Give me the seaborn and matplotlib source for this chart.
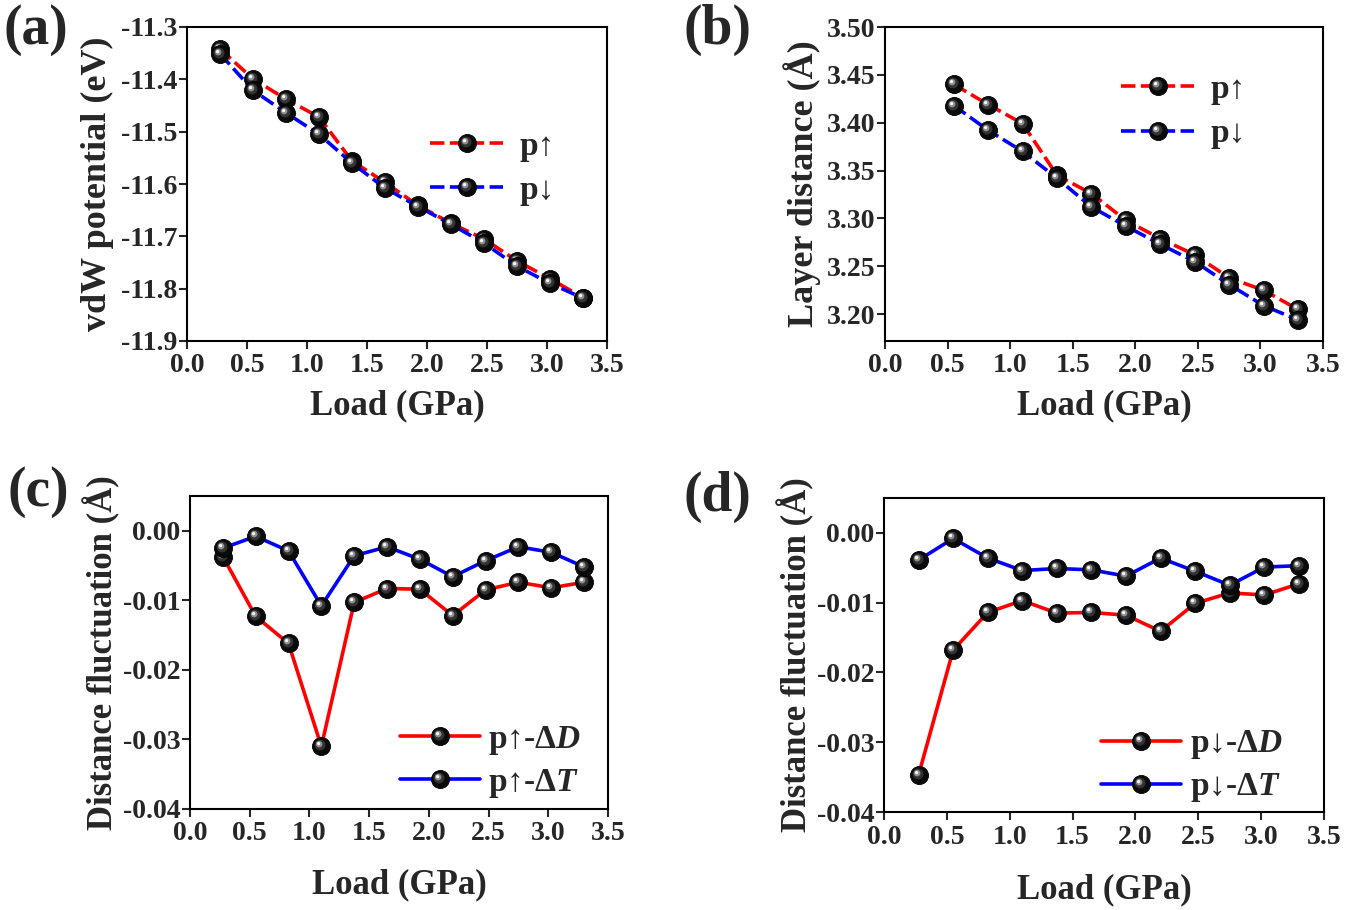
import numpy as np
import pandas as pd
import matplotlib
matplotlib.use("Agg")
import matplotlib.pyplot as plt
import seaborn as sns
from matplotlib.path import Path
from matplotlib.legend_handler import HandlerTuple

# ---- data ----
load = [0.275, 0.55, 0.825, 1.1, 1.375, 1.65, 1.925, 2.2, 2.475, 2.75, 3.025, 3.3]

vdw_up = [-11.342, -11.399, -11.438, -11.472, -11.556, -11.597, -11.641, -11.675, -11.705, -11.747, -11.781, -11.817]
vdw_down = [-11.351, -11.421, -11.464, -11.505, -11.560, -11.608, -11.643, -11.677, -11.713, -11.757, -11.790, -11.818]

layer_load = load[1:]
layer_up = [3.440, 3.419, 3.399, 3.345, 3.326, 3.298, 3.279, 3.262, 3.238, 3.225, 3.205]
layer_down = [3.418, 3.392, 3.370, 3.342, 3.312, 3.292, 3.273, 3.255, 3.231, 3.209, 3.194]

dD_up = [-0.0037, -0.0123, -0.0162, -0.0310, -0.0103, -0.0083, -0.0084, -0.0122, -0.0085, -0.0074, -0.0082, -0.0074]
dT_up = [-0.0025, -0.0008, -0.0029, -0.0108, -0.0036, -0.0023, -0.0041, -0.0066, -0.0043, -0.0023, -0.0031, -0.0052]

dD_down = [-0.0347, -0.0168, -0.0114, -0.0097, -0.0115, -0.0114, -0.0118, -0.0141, -0.0101, -0.0086, -0.0089, -0.0073]
dT_down = [-0.0039, -0.0008, -0.0036, -0.0054, -0.0051, -0.0053, -0.0062, -0.0036, -0.0055, -0.0075, -0.0049, -0.0047]

sns.set_style("ticks")
plt.rcParams["font.family"] = ["Liberation Serif", "DejaVu Serif"]
plt.rcParams["font.weight"] = "bold"
plt.rcParams["axes.labelweight"] = "bold"
plt.rcParams["axes.unicode_minus"] = False
plt.rcParams["mathtext.fontset"] = "custom"
plt.rcParams["mathtext.rm"] = "Liberation Serif:bold"
plt.rcParams["mathtext.it"] = "Liberation Serif:italic:bold"
plt.rcParams["axes.linewidth"] = 1.5


def spot(cx, cy, r):
    # small circle inside the unit marker box; the lone point keeps the scale fixed
    return Path.make_compound_path(Path([(0.5, 0.0)], [Path.MOVETO]), Path.circle((cx, cy), r))


shine = [(spot(-0.08, 0.08, 0.30), "#333333"),
         (spot(-0.13, 0.13, 0.18), "#8f8f8f"),
         (spot(-0.16, 0.16, 0.09), "#f7f7f7")]
MS = 13


def series(ax, x, y, color, ls, label):
    df = pd.DataFrame({"Load": x, "value": y})
    sns.lineplot(data=df, x="Load", y="value", ax=ax, color=color, linestyle=ls,
                 lw=2.6, marker="o", ms=MS, mfc="#0a0a0a", mec="black", mew=0.6,
                 label=label)
    parts = [ax.lines[-1]]
    for path, c in shine:
        h, = ax.plot(x, y, ls="none", marker=path, ms=MS, color=c, mew=0)
        parts.append(h)
    return tuple(parts)


def add_legend(ax, handles, labels, anchor, hl, tp, sp):
    ax.legend(handles, labels, handler_map={tuple: HandlerTuple(ndivide=1, pad=0)},
              frameon=False, loc="center left", bbox_to_anchor=anchor,
              handlelength=hl, handletextpad=tp, labelspacing=sp,
              prop={"family": ["Liberation Serif", "DejaVu Serif"], "weight": "bold", "size": 24})


fig = plt.figure(figsize=(13.6, 9.1), dpi=100)

boxes = {
    "a": [187 / 1360, 1 - 341 / 910, 420 / 1360, 314 / 910],
    "b": [885 / 1360, 1 - 341 / 910, 438 / 1360, 314 / 910],
    "c": [190 / 1360, 1 - 809 / 910, 418 / 1360, 313 / 910],
    "d": [884 / 1360, 1 - 812 / 910, 440 / 1360, 314 / 910],
}
axes = {k: fig.add_axes(v) for k, v in boxes.items()}

dash = (0, (4, 1.5))

# (a)
ax = axes["a"]
h1 = series(ax, load, vdw_up, "red", dash, "p↑")
h2 = series(ax, load, vdw_down, "blue", dash, "p↓")
ax.set_ylim(-11.9, -11.3)
ax.set_yticks(np.arange(-11.9, -11.25, 0.1))
ax.set_yticklabels([f"{v:.1f}" for v in np.arange(-11.9, -11.25, 0.1)])
ax.set_ylabel("vdW potential (eV)", fontsize=26, labelpad=5)
add_legend(ax, [h1, h2], ["p↑", "p↓"], (0.507, 0.55), 2.2, 0.5, 0.4)

# (b)
ax = axes["b"]
h1 = series(ax, layer_load, layer_up, "red", dash, "p↑")
h2 = series(ax, layer_load, layer_down, "blue", dash, "p↓")
ax.set_ylim(3.172, 3.50)
ax.set_yticks(np.arange(3.20, 3.501, 0.05))
ax.set_yticklabels([f"{v:.2f}" for v in np.arange(3.20, 3.501, 0.05)])
ax.set_ylabel("Layer distance (Å)", fontsize=26, labelpad=4)
add_legend(ax, [h1, h2], ["p↑", "p↓"], (0.47, 0.73), 2.2, 0.5, 0.4)

# (c)
ax = axes["c"]
h1 = series(ax, load, dD_up, "red", "-", "p↑-Δ$D$")
h2 = series(ax, load, dT_up, "blue", "-", "p↑-Δ$T$")
add_legend(ax, [h1, h2], ["p↑-Δ$D$", "p↑-Δ$T$"], (0.43, 0.15), 2.4, 0.25, 0.3)

# (d)
ax = axes["d"]
h1 = series(ax, load, dD_down, "red", "-", "p↓-Δ$D$")
h2 = series(ax, load, dT_down, "blue", "-", "p↓-Δ$T$")
add_legend(ax, [h1, h2], ["p↓-Δ$D$", "p↓-Δ$T$"], (0.426, 0.145), 2.4, 0.25, 0.3)

for k in ["c", "d"]:
    ax = axes[k]
    ax.set_ylim(-0.04, 0.005)
    ticks = np.arange(-0.04, 0.001, 0.01)
    ax.set_yticks(ticks)
    ax.set_yticklabels([f"{v:.2f}" if abs(v) > 1e-9 else "0.00" for v in ticks])
    ax.set_ylabel("Distance fluctuation (Å)", fontsize=25, labelpad=2)

pads = {"a": 8, "b": 8, "c": 16, "d": 17}
for k, ax in axes.items():
    ax.set_xlim(0, 3.5)
    ax.set_xticks(np.arange(0, 3.51, 0.5))
    ax.set_xticklabels([f"{v:.1f}" for v in np.arange(0, 3.51, 0.5)])
    ax.set_xlabel("Load (GPa)", fontsize=25, labelpad=pads[k])
    ax.tick_params(direction="out", length=6, width=1.5, labelsize=20, top=False, right=False)
    ax.tick_params(axis="y", pad=1)
    ax.tick_params(axis="x", pad=3)
    for s in ax.spines.values():
        s.set_visible(True)
        s.set_linewidth(1.5)
        s.set_color("black")

fig.text(4 / 1360, 1 - 30 / 910, "(a)", fontsize=40, fontweight="bold", va="center", ha="left")
fig.text(684 / 1360, 1 - 30 / 910, "(b)", fontsize=40, fontweight="bold", va="center", ha="left")
fig.text(7 / 1360, 1 - 492 / 910, "(c)", fontsize=40, fontweight="bold", va="center", ha="left")
fig.text(684 / 1360, 1 - 497 / 910, "(d)", fontsize=40, fontweight="bold", va="center", ha="left")

fig.savefig("out.png", dpi=100)
